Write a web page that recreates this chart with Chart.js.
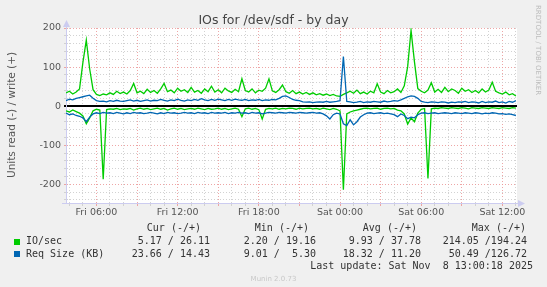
<!DOCTYPE html>
<html>
<head>
<meta charset="utf-8">
<title>IOs for /dev/sdf - by day</title>
<script src="https://cdn.jsdelivr.net/npm/chart.js@4.4.1/dist/chart.umd.min.js"></script>
<style>
  html, body { margin: 0; padding: 0; background: #f0f0f0; }
  #wrap { position: relative; width: 547px; height: 287px; overflow: hidden; font-family: "DejaVu Sans", sans-serif; }
  #wrap canvas { position: absolute; left: 0; top: 0; }
  .t { position: absolute; white-space: pre; }
  .mono { font-family: "DejaVu Sans Mono", monospace; font-size: 10px; line-height: 12px; color: #333; }
  .sq { position: absolute; width: 6px; height: 6px; }
</style>
</head>
<body>
<div id="wrap">
  <canvas id="ioChart" width="547" height="287"></canvas>
  <div class="t" style="left:0;width:547px;top:12px;text-align:center;font-size:12.5px;line-height:15px;color:#444;">IOs for /dev/sdf - by day</div>
  <div class="t" style="left:5px;top:50px;height:130px;width:12px;writing-mode:vertical-rl;transform:rotate(180deg);text-align:center;font-size:10.5px;line-height:12px;color:#555;">Units read (-) / write (+)</div>
  <div class="t" style="left:533px;top:5px;writing-mode:vertical-rl;font-size:7px;line-height:9px;color:#bbb;">RRDTOOL / TOBI OETIKER</div>
  <div id="legend"></div>
  <div class="t" style="left:0;width:547px;top:274px;text-align:center;font-size:7px;line-height:10px;color:#c8c8c8;">Munin 2.0.73</div>
</div>
<script>
// samples every 15 min, starting Fri 03:45
const startHourOfDay = 3.75;
const stepHours = 0.25;

// IO/sec write (+)
const ioWrite = [
  34, 38, 31, 36, 44, 112, 169, 95, 42, 30,
  27, 31, 29, 34, 30, 38, 32, 36, 31, 40,
  58, 34, 38, 32, 43, 35, 40, 33, 44, 58,
  37, 41, 34, 46, 38, 42, 35, 48, 36, 40,
  33, 44, 37, 51, 36, 42, 34, 46, 39, 35,
  43, 37, 70, 40, 36, 44, 34, 41, 38, 46,
  70, 39, 35, 42, 54, 37, 33, 40, 32, 36,
  31, 35, 30, 34, 29, 32, 28, 31, 27, 30,
  26, 25, 30, 34, 38, 33, 41, 32, 36, 31,
  38, 34, 57, 36, 32, 40, 34, 37, 44, 35,
  52, 101, 194, 114, 45, 38, 34, 41, 60, 36,
  43, 35, 48, 37, 44, 40, 33, 46, 38, 42,
  35, 40, 34, 44, 36, 41, 61, 38, 34, 31,
  36, 29, 32, 26
];
// IO/sec read (-)
const ioRead = [
  12, 15, 10, 14, 18, 25, 45, 30, 12, 8,
  10, 187, 9, 7, 8, 6, 9, 7, 8, 6,
  10, 7, 5, 8, 6, 9, 7, 5, 8, 6,
  10, 7, 5, 8, 6, 9, 7, 6, 8, 5,
  7, 9, 6, 8, 7, 5, 8, 6, 9, 7,
  5, 8, 27, 7, 5, 8, 6, 9, 33, 8,
  6, 7, 5, 8, 6, 7, 5, 6, 8, 5,
  7, 6, 5, 7, 6, 8, 5, 7, 9, 6,
  8, 12, 214, 20, 15, 12, 10, 8, 6, 5,
  7, 6, 5, 8, 6, 5, 7, 6, 10, 12,
  20, 46, 30, 40, 18, 8, 6, 185, 7, 5,
  6, 4, 5, 6, 4, 5, 6, 4, 5, 7,
  4, 5, 6, 4, 5, 6, 4, 5, 6, 4,
  5, 6, 4, 5
];
// Req Size (KB) write (+)
const reqWrite = [
  14, 18, 16, 20, 22, 24, 26, 28, 20, 14,
  12, 13, 11, 14, 12, 15, 13, 12, 14, 16,
  13, 15, 12, 14, 16, 13, 15, 14, 17, 15,
  13, 16, 14, 18, 15, 13, 16, 14, 17, 15,
  19, 16, 14, 17, 15, 18, 16, 14, 17, 15,
  18, 16, 15, 17, 14, 16, 15, 17, 14, 16,
  15, 17, 16, 20, 25, 26, 22, 17, 15, 14,
  11, 10, 11, 9, 10, 11, 10, 12, 10, 11,
  12, 14, 127, 12, 11, 9, 10, 12, 9, 11,
  10, 12, 11, 10, 13, 11, 12, 14, 13, 16,
  20, 24, 26, 25, 20, 12, 10, 9, 11, 10,
  9, 11, 10, 8, 10, 9, 11, 10, 12, 9,
  11, 10, 8, 12, 9, 11, 10, 13, 9, 11,
  8, 12, 10, 14
];
// Req Size (KB) read (-)
const reqRead = [
  18, 22, 20, 24, 26, 30, 40, 28, 20, 17,
  19, 16, 18, 17, 19, 16, 18, 20, 17, 19,
  16, 18, 17, 19, 18, 16, 18, 20, 17, 19,
  16, 18, 17, 19, 18, 16, 18, 17, 19, 16,
  18, 17, 19, 16, 18, 17, 18, 16, 19, 17,
  18, 16, 18, 17, 19, 16, 18, 17, 20, 18,
  16, 17, 18, 16, 17, 18, 16, 17, 18, 16,
  17, 18, 17, 16, 18, 17, 20, 25, 33, 22,
  18, 20, 45, 50, 35, 48, 40, 28, 22, 18,
  17, 19, 18, 17, 19, 18, 20, 22, 27, 20,
  24, 32, 28, 30, 22, 18, 17, 19, 18, 17,
  19, 18, 17, 18, 19, 17, 18, 19, 17, 18,
  19, 17, 18, 20, 18, 19, 17, 18, 20, 19,
  21, 20, 22, 24
];

// x axis: hours since Fri 03:45
const xMax = 33.33;
const timeTickHours = [2.25, 8.25, 14.25, 20.25, 26.25, 32.25];
const timeTickLabels = ['Fri 06:00', 'Fri 12:00', 'Fri 18:00', 'Sat 00:00', 'Sat 06:00', 'Sat 12:00'];
const yMin = -248, yMax = 200;
const yTickValues = [200, 100, 0, -100, -200];
const yTickLabels = ['200', '100', '0', '-100', '-200'];

// legend table
const seriesNames = ['IO/sec', 'Req Size (KB)'];
const seriesColors = ['#00cc00', '#0066b3'];
const statHeads = ['Cur (-/+)', 'Min (-/+)', 'Avg (-/+)', 'Max (-/+)'];
const statCur = ['5.17 / 26.11', '23.66 / 14.43'];
const statMin = ['2.20 / 19.16', '9.01 /  5.30'];
const statAvg = ['9.93 / 37.78', '18.32 / 11.20'];
const statMax = ['214.05 /194.24', '50.49 /126.72'];
const lastUpdate = 'Last update: Sat Nov  8 13:00:18 2025';

const toPoints = (arr, sign) => arr.map((v, i) => ({ x: i * stepHours, y: sign * v }));

const plotBg = {
  id: 'plotBg',
  beforeDraw(chart) {
    const { ctx, chartArea: a } = chart;
    ctx.save();
    ctx.fillStyle = '#ffffff';
    ctx.fillRect(a.left, a.top, a.right - a.left, a.bottom - a.top);
    ctx.restore();
  }
};

const axisArrows = {
  id: 'axisArrows',
  afterDraw(chart) {
    const { ctx, chartArea: a } = chart;
    const l = Math.round(a.left) + 0.5, b = Math.round(a.bottom) + 0.5;
    ctx.save();
    ctx.strokeStyle = '#ccccf0';
    ctx.fillStyle = '#ccccf0';
    ctx.lineWidth = 1;
    ctx.beginPath();
    ctx.moveTo(l, a.top); ctx.lineTo(l, a.top - 3);
    ctx.moveTo(a.right, b); ctx.lineTo(a.right + 3, b);
    ctx.moveTo(a.left - 4, b); ctx.lineTo(a.left, b);
    ctx.stroke();
    ctx.beginPath();
    ctx.moveTo(l, a.top - 8); ctx.lineTo(l - 3.5, a.top - 1); ctx.lineTo(l + 3.5, a.top - 1);
    ctx.fill();
    ctx.beginPath();
    ctx.moveTo(a.right + 8, b); ctx.lineTo(a.right + 1, b - 3.5); ctx.lineTo(a.right + 1, b + 3.5);
    ctx.fill();
    ctx.restore();
  }
};

const majorRed = 'rgba(235,150,150,0.85)';
const minorGrey = 'rgba(205,205,205,0.9)';

new Chart(document.getElementById('ioChart'), {
  type: 'line',
  data: {
    datasets: [
      { label: 'Req Size write', data: toPoints(reqWrite, 1), borderColor: seriesColors[1] },
      { label: 'Req Size read', data: toPoints(reqRead, -1), borderColor: seriesColors[1] },
      { label: 'IO/sec write', data: toPoints(ioWrite, 1), borderColor: seriesColors[0] },
      { label: 'IO/sec read', data: toPoints(ioRead, -1), borderColor: seriesColors[0] }
    ]
  },
  options: {
    responsive: false,
    animation: false,
    parsing: false,
    layout: { padding: { top: 28, right: 30, left: 0, bottom: 0 } },
    elements: {
      line: { borderWidth: 1.3, tension: 0, fill: false },
      point: { radius: 0 }
    },
    plugins: { legend: { display: false }, tooltip: { enabled: false }, title: { display: false } },
    scales: {
      x: {
        type: 'linear',
        min: 0,
        max: xMax,
        afterFit: (s) => { s.height = 84; },
        afterBuildTicks: (s) => {
          const t = [];
          for (let h = 0.25; h <= xMax; h += 1) t.push({ value: h });
          s.ticks = t;
        },
        ticks: {
          autoSkip: false,
          maxRotation: 0,
          padding: 1,
          color: '#555',
          font: { family: 'DejaVu Sans', size: 9.5 },
          callback: (v) => {
            const k = timeTickHours.findIndex(h => Math.abs(h - v) < 0.01);
            return k >= 0 ? timeTickLabels[k] : '';
          }
        },
        grid: {
          tickLength: 3,
          lineWidth: 1,
          color: (c) => {
            const hod = Math.round(((startHourOfDay + c.tick.value) % 24 + 24) % 24);
            return hod % 3 === 0 ? majorRed : minorGrey;
          }
        },
        border: { display: true, color: '#ccccf0', width: 1, dash: [1, 2] }
      },
      y: {
        type: 'linear',
        min: yMin,
        max: yMax,
        afterFit: (s) => { s.width = 66; },
        afterBuildTicks: (s) => {
          const t = [];
          for (let v = 200; v >= -240; v -= 20) t.push({ value: v });
          s.ticks = t.reverse();
        },
        ticks: {
          autoSkip: false,
          padding: 3,
          color: '#555',
          font: { family: 'DejaVu Sans', size: 9.5 },
          callback: (v) => {
            const k = yTickValues.indexOf(v);
            return k >= 0 ? yTickLabels[k] : '';
          }
        },
        grid: {
          tickLength: 2,
          lineWidth: (c) => (c.tick && c.tick.value === 0 ? 2 : 1),
          color: (c) => {
            const v = c.tick ? c.tick.value : 1;
            if (v === 0) return '#000000';
            return v % 100 === 0 ? majorRed : minorGrey;
          }
        },
        border: {
          display: true, color: '#ccccf0', width: 1,
          dash: (c) => (c.tick && c.tick.value === 0 ? [] : [1, 2])
        }
      }
    }
  },
  plugins: [plotBg, axisArrows]
});

// legend table below the plot
const legend = document.getElementById('legend');
function cell(text, rightEdge, top) {
  const d = document.createElement('div');
  d.className = 't mono';
  d.style.right = (547 - rightEdge) + 'px';
  d.style.top = top + 'px';
  d.textContent = text;
  legend.appendChild(d);
}
const colEdges = [210, 316, 421, 527];
const headEdges = [201, 309, 417, 526];
statHeads.forEach((h, i) => cell(h, headEdges[i], 222));
const rowTops = [235, 247.5];
seriesNames.forEach((name, r) => {
  const sq = document.createElement('div');
  sq.className = 'sq';
  sq.style.left = '14px';
  sq.style.top = (rowTops[r] + 3.5) + 'px';
  sq.style.background = seriesColors[r];
  legend.appendChild(sq);
  const n = document.createElement('div');
  n.className = 't mono';
  n.style.left = '26px';
  n.style.top = rowTops[r] + 'px';
  n.textContent = name;
  legend.appendChild(n);
  [statCur, statMin, statAvg, statMax].forEach((col, c) => cell(col[r], colEdges[c], rowTops[r]));
});
cell(lastUpdate, 533, 259.5);
</script>
</body>
</html>
